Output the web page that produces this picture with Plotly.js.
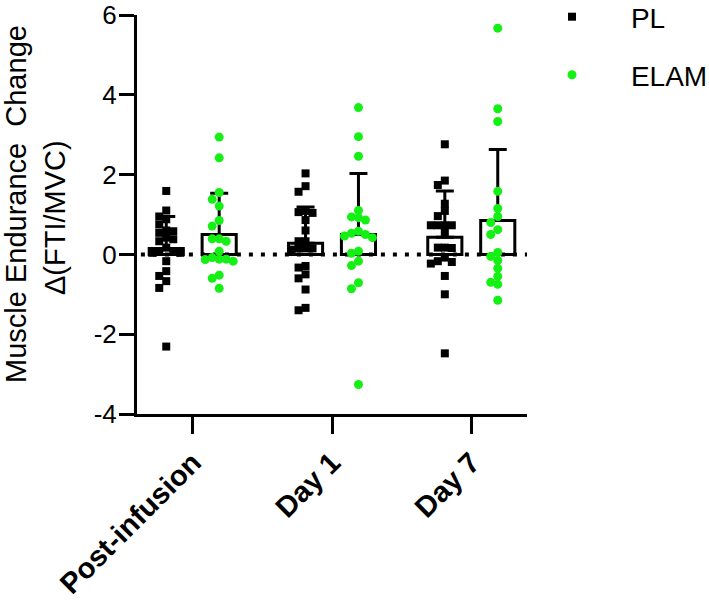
<!DOCTYPE html>
<html><head><meta charset="utf-8">
<script src="https://cdn.plot.ly/plotly-3.0.1.min.js"></script>
<style>html,body{margin:0;padding:0;background:#fff}#chart{width:709px;height:600px}</style>
</head><body><div id="chart"></div>
<script>
// ---- data ----
const categories = ['Post-infusion', 'Day 1', 'Day 7'];
const seriesNames = ['PL', 'ELAM'];
const yTitleLines = ['Muscle Endurance\u00a0 Change', '\u0394(FTI/MVC)'];

const plPost  = [1.59, 1.10, 0.95, 0.88, 0.75, 0.60, 0.58, 0.54, 0.42, 0.38, 0.33, 0.17, 0.08, 0.06, 0.04, 0.04, -0.17, -0.42, -0.54, -0.67, -0.84, -2.31];
const plDay1  = [2.03, 1.71, 1.57, 1.09, 1.06, 1.04, 0.86, 0.60, 0.33, 0.33, 0.15, 0.15, 0.15, 0.12, -0.29, -0.33, -0.50, -0.60, -0.88, -1.34, -1.40];
const plDay7  = [2.76, 1.85, 1.74, 1.27, 1.09, 0.96, 0.73, 0.73, 0.73, 0.73, 0.54, 0.17, 0.17, 0.16, -0.08, -0.17, -0.19, -0.23, -0.54, -1.00, -2.48];

const elamPost = [2.94, 2.42, 1.55, 1.38, 1.21, 0.85, 0.71, 0.39, 0.39, 0.33, 0.08, -0.08, -0.12, -0.12, -0.13, -0.17, -0.52, -0.60, -0.85];
const elamDay1 = [3.68, 2.95, 2.46, 1.10, 0.94, 0.92, 0.86, 0.58, 0.53, 0.50, 0.46, 0.42, 0.08, 0.03, -0.17, -0.28, -0.71, -0.86, -3.26];
const elamDay7 = [5.67, 3.65, 3.33, 1.58, 1.15, 0.95, 0.80, 0.62, 0.50, 0.05, -0.05, -0.15, -0.35, -0.55, -0.70, -0.75, -1.15];

const plMean   = [0.15, 0.28, 0.43];
const plSD     = [0.80, 0.91, 1.16];
const elamMean = [0.50, 0.50, 0.85];
const elamSD   = [1.03, 1.53, 1.78];

const yTicks = [-4, -2, 0, 2, 4, 6];

// ---- layout constants ----
const W = 709, H = 600;
const M = {l: 137, r: 182, t: 15, b: 186, autoexpand: false};
const xRange = [-0.4, 2.4], yRange = [-4, 6];
const plotW = W - M.l - M.r, plotH = H - M.t - M.b;
const pxPerX = plotW / (xRange[1] - xRange[0]);
const pxPerY = plotH / (yRange[1] - yRange[0]);
const groupOffset = 0.19;
const barWidth = 0.245;
const FONT = 'Liberation Sans, Arial, Helvetica, sans-serif';
const GREEN = '#14f014';
const NB = '\u00a0';
const pad = NB.repeat(5);
const px2paperX = px => (px - M.l) / plotW;
const px2paperY = py => (H - M.b - py) / plotH;

// simple beeswarm: spread points horizontally so markers do not overlap much
function swarm(vals, center, sizePx) {
  const order = vals.map((v, i) => i).sort((a, b) => vals[b] - vals[a]);
  const placed = [];
  const xs = new Array(vals.length);
  for (const i of order) {
    const py = vals[i] * pxPerY;
    let off = 0;
    for (let step = 0; step < 60; step++) {
      const k = Math.ceil(step / 2) * (step % 2 ? -1 : 1);
      const cand = k * sizePx;
      if (placed.every(p => Math.abs(p.y - py) >= sizePx || Math.abs(p.x - cand) >= sizePx)) { off = cand; break; }
    }
    placed.push({x: off, y: py});
    xs[i] = center + off / pxPerX;
  }
  return xs;
}

const plGroups = [plPost, plDay1, plDay7];
const elamGroups = [elamPost, elamDay1, elamDay7];

function buildPoints(groups, sign, sizePx) {
  let xs = [], ys = [];
  groups.forEach((vals, g) => {
    xs = xs.concat(swarm(vals, g + sign * groupOffset, sizePx));
    ys = ys.concat(vals);
  });
  return {xs, ys};
}
const plPts = buildPoints(plGroups, -1, 7);
const elamPts = buildPoints(elamGroups, 1, 7);

const catIdx = categories.map((c, i) => i);

const traces = [
  {
    type: 'bar', x: catIdx.map(i => i - groupOffset), y: plMean, width: barWidth,
    marker: {color: 'rgba(0,0,0,0)', line: {color: '#000', width: 3}},
    error_y: {type: 'data', array: plSD, arrayminus: plSD.map(() => 0), symmetric: false, color: '#000', thickness: 3, width: 9},
    showlegend: false, hoverinfo: 'skip'
  },
  {
    type: 'bar', x: catIdx.map(i => i + groupOffset), y: elamMean, width: barWidth,
    marker: {color: 'rgba(0,0,0,0)', line: {color: '#000', width: 3}},
    error_y: {type: 'data', array: elamSD, arrayminus: elamSD.map(() => 0), symmetric: false, color: '#000', thickness: 3, width: 9},
    showlegend: false, hoverinfo: 'skip'
  },
  {
    type: 'scatter', mode: 'markers', name: pad + seriesNames[0],
    x: plPts.xs, y: plPts.ys,
    marker: {symbol: 'square', size: 8, color: '#000'},
    legend: 'legend'
  },
  {
    type: 'scatter', mode: 'markers', name: pad + seriesNames[1],
    x: elamPts.xs, y: elamPts.ys,
    marker: {symbol: 'circle', size: 9, color: GREEN},
    legend: 'legend2'
  }
];

const layout = {
  width: W, height: H,
  margin: M,
  paper_bgcolor: '#fff', plot_bgcolor: '#fff',
  font: {family: FONT, color: '#000'},
  barmode: 'overlay',
  showlegend: true,
  xaxis: {
    range: xRange, tickvals: catIdx, ticktext: categories, tickangle: -45,
    ticks: 'outside', ticklen: 17, tickwidth: 3, tickcolor: '#000',
    showline: true, linewidth: 3, linecolor: '#000',
    showgrid: false, zeroline: false, fixedrange: true, automargin: false,
    tickfont: {family: FONT, size: 29, weight: 'bold', color: '#000'}
  },
  yaxis: {
    range: yRange, tickvals: yTicks, ticktext: yTicks.map(String),
    ticks: 'outside', ticklen: 15, tickwidth: 3, tickcolor: '#000',
    showline: true, linewidth: 3, linecolor: '#000',
    showgrid: false, zeroline: false, fixedrange: true, automargin: false,
    ticklabelstandoff: -3,
    tickfont: {family: FONT, size: 26, color: '#000'}
  },
  annotations: [
    {text: yTitleLines[0], textangle: -90, xref: 'paper', yref: 'paper',
     x: px2paperX(16), y: px2paperY(204), xanchor: 'center', yanchor: 'middle',
     showarrow: false, font: {family: FONT, size: 29, color: '#000'}},
    {text: yTitleLines[1], textangle: -90, xref: 'paper', yref: 'paper',
     x: px2paperX(55), y: px2paperY(218), xanchor: 'center', yanchor: 'middle',
     showarrow: false, font: {family: FONT, size: 29, color: '#000'}}
  ],
  shapes: [{
    type: 'line', xref: 'paper', x0: 0.01, x1: 1, yref: 'y', y0: 0, y1: 0,
    line: {color: '#000', width: 4, dash: '4px,8px'}, layer: 'below'
  }],
  legend: {x: px2paperX(552), xanchor: 'left', y: px2paperY(17), yanchor: 'middle',
           font: {family: FONT, size: 28, color: '#000'}, bgcolor: 'rgba(0,0,0,0)'},
  legend2: {x: px2paperX(552), xanchor: 'left', y: px2paperY(75), yanchor: 'middle',
            font: {family: FONT, size: 28, color: '#000'}, bgcolor: 'rgba(0,0,0,0)'}
};

Plotly.newPlot('chart', traces, layout, {staticPlot: true, displayModeBar: false});
</script>
</body></html>
